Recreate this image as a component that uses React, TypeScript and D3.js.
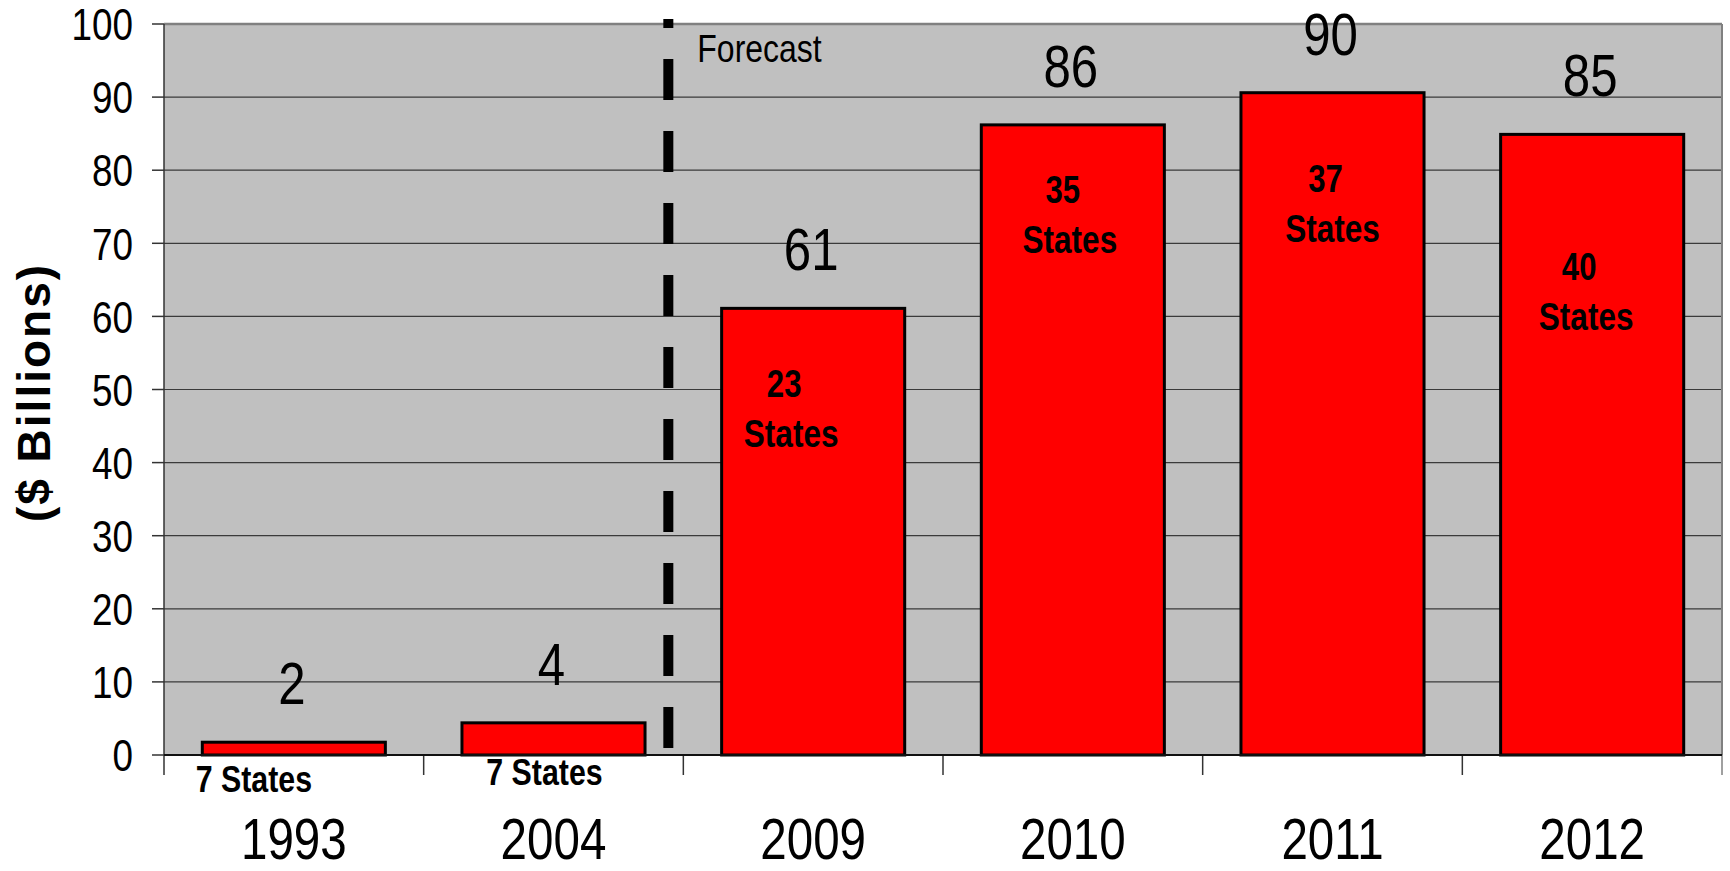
import React from "react";
import * as d3 from "d3";

const years = ["1993", "2004", "2009", "2010", "2011", "2012"];
const values = [1.75, 4.4, 61.1, 86.2, 90.6, 84.9];
const valueLabels = ["2", "4", "61", "86", "90", "85"];
const stateCounts = ["7", "7", "23", "35", "37", "40"];
const yTicks = [0, 10, 20, 30, 40, 50, 60, 70, 80, 90, 100];
// annotation anchors (value units) and horizontal shift for the "N States" notes
const stateAnchor = [-5.1, -4.1, 49, 75.5, 77, 65];
const stateShift = [-40, -9, -25, -6, -3, -9];

const W = 1730;
const H = 871;
const M = { left: 164, right: 1722, top: 24, bottom: 755 };
const FONT = "'Liberation Sans', Arial, sans-serif";
const NARROW_SCALE = 0.82;

type NTProps = {
  x: number;
  y: number;
  size: number;
  anchor?: "start" | "middle" | "end";
  bold?: boolean;
  dy?: string;
  children: React.ReactNode;
};

function NText({ x, y, size, anchor = "start", bold = false, dy, children }: NTProps) {
  return (
    <g transform={`translate(${x},${y}) scale(${NARROW_SCALE},1)`}>
      <text x={0} y={0} dy={dy} textAnchor={anchor} fontFamily={FONT} fontWeight={bold ? "bold" : "normal"} fontSize={size} fill="#000">
        {children}
      </text>
    </g>
  );
}

export default function App() {
  const x = d3.scaleBand<string>().domain(years).range([M.left, M.right]).paddingInner(0).paddingOuter(0);
  const xb = d3.scaleBand<string>().domain(years).range([M.left, M.right]).paddingInner(0.295).paddingOuter(0.1475);
  const y = d3.scaleLinear().domain([0, 100]).range([M.bottom, M.top]);
  const step = x.step();
  const boundaries = d3.range(years.length + 1).map((i) => M.left + i * step);
  const forecastX = (x("2009") as number) - 15;

  return (
    <svg width={W} height={H} style={{ position: "absolute", left: 0, top: 0, display: "block" }}>
      <rect x={0} y={0} width={W} height={H} fill="#fff" />
      <rect x={M.left} y={M.top} width={M.right - M.left} height={M.bottom - M.top} fill="#C0C0C0" />
      {yTicks.filter((t) => t > 0 && t < 100).map((t) => (
        <line key={"g" + t} x1={M.left} x2={M.right} y1={y(t)} y2={y(t)} stroke="#3a3a3a" strokeWidth={1.2} />
      ))}
      <line x1={M.left} x2={M.right} y1={M.top} y2={M.top} stroke="#808080" strokeWidth={2.5} />
      <line x1={M.right} x2={M.right} y1={M.top} y2={M.bottom} stroke="#808080" strokeWidth={2} />
      {/* y axis */}
      <line x1={M.left} x2={M.left} y1={M.top} y2={M.bottom} stroke="#333" strokeWidth={1.5} />
      {yTicks.map((t) => (
        <g key={"yt" + t}>
          <line x1={M.left - 12} x2={M.left} y1={y(t)} y2={y(t)} stroke="#333" strokeWidth={1.5} />
          <NText x={133} y={y(t)} dy="0.36em" anchor="end" size={45}>
            {t}
          </NText>
        </g>
      ))}
      {/* x ticks */}
      {boundaries.map((b, i) => (
        <line key={"xt" + i} x1={b} x2={b} y1={M.bottom} y2={M.bottom + 20} stroke={i === boundaries.length - 1 ? "#808080" : "#333"} strokeWidth={1.5} />
      ))}
      {/* forecast divider */}
      <line x1={forecastX} x2={forecastX} y1={19} y2={751} stroke="#000" strokeWidth={10} strokeDasharray="41 31" strokeDashoffset={32} />
      <NText x={forecastX + 29} y={61.5} size={39}>
        Forecast
      </NText>
      {/* bars */}
      {years.map((yr, i) => (
        <rect key={"b" + yr} x={xb(yr) as number} y={y(values[i])} width={xb.bandwidth()} height={y(0) - y(values[i])} fill="#FF0000" stroke="#000" strokeWidth={3} />
      ))}
      <line x1={M.left} x2={M.right} y1={M.bottom} y2={M.bottom} stroke="#111" strokeWidth={2} />
      {/* value labels */}
      {years.map((yr, i) => (
        <NText key={"v" + yr} x={(xb(yr) as number) + xb.bandwidth() / 2 - 2} y={y(values[i]) - 38} anchor="middle" size={60}>
          {valueLabels[i]}
        </NText>
      ))}
      {/* state count notes */}
      {years.map((yr, i) => {
        const cx = (xb(yr) as number) + xb.bandwidth() / 2 + stateShift[i];
        const by = y(stateAnchor[i]);
        if (i < 2) {
          return (
            <NText key={"s" + yr} x={cx} y={by} anchor="middle" bold size={37}>
              {stateCounts[i] + " States"}
            </NText>
          );
        }
        return (
          <g key={"s" + yr}>
            <NText x={cx - 4} y={by} anchor="middle" bold size={38}>
              {stateCounts[i]}
            </NText>
            <NText x={cx + 3} y={by + 50} anchor="middle" bold size={38.5}>
              States
            </NText>
          </g>
        );
      })}
      {/* category labels */}
      {years.map((yr) => (
        <NText key={"c" + yr} x={(x(yr) as number) + step / 2} y={859} anchor="middle" size={58}>
          {yr}
        </NText>
      ))}
      {/* y title */}
      <text transform={`translate(50, ${(M.top + M.bottom) / 2 + 3}) rotate(-90)`} textAnchor="middle" fontFamily={FONT} fontWeight="bold" fontSize={46} letterSpacing={2} fill="#000">
        ($ Billions)
      </text>
    </svg>
  );
}
